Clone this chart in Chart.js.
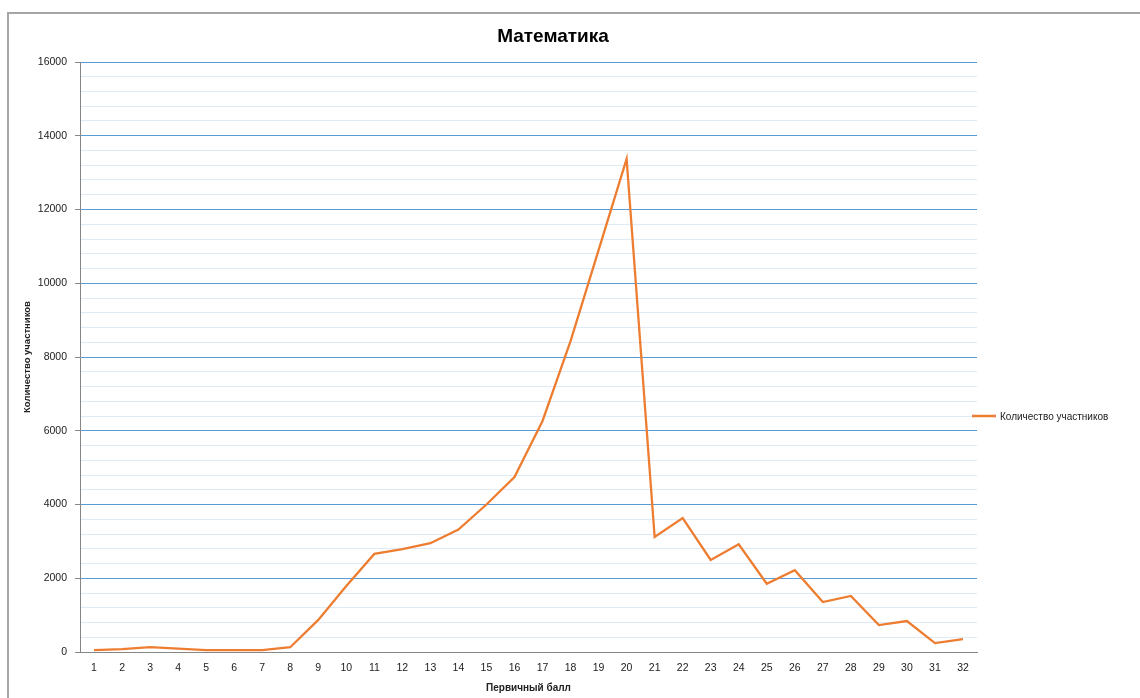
<!DOCTYPE html>
<html>
<head>
<meta charset="utf-8">
<script src="https://cdn.jsdelivr.net/npm/chart.js@4.4.1/dist/chart.umd.min.js"></script>
<style>
  body { margin: 0; background: #fff; }
  #frame { position: absolute; left: 7px; top: 12px; width: 1140px; height: 700px;
           border-left: 2px solid #a6a6a6; border-top: 2px solid #a6a6a6; }
  #wrap { position: absolute; left: 0; top: 0; width: 1140px; height: 698px; }
</style>
</head>
<body>
<div id="frame"></div>
<div id="wrap"><canvas id="chart"></canvas></div>
<script>
const chartTitle = 'Математика';
const seriesName = 'Количество участников';
const xTitle = 'Первичный балл';
const scores = [1, 2, 3, 4, 5, 6, 7, 8, 9, 10, 11, 12, 13, 14, 15, 16,
  17, 18, 19, 20, 21, 22, 23, 24, 25, 26, 27, 28, 29, 30, 31, 32];
const participants = [50, 80, 130, 90, 50, 50, 50, 130, 870, 1790, 2660, 2790, 2950, 3320, 4000, 4745,
  6265, 8430, 10900, 13370, 3120, 3630, 2495, 2920, 1850, 2220, 1355, 1520, 730, 840, 240, 350];

const FONT = "'Liberation Sans', Arial, sans-serif";
const orange = '#ed7d31';

// title + legend drawn by hand so they can sit where Excel put them
const decorations = {
  id: 'decorations',
  afterDraw(chart) {
    const ctx = chart.ctx;
    ctx.save();
    ctx.fillStyle = '#000';
    ctx.textBaseline = 'middle';
    ctx.textAlign = 'center';
    ctx.font = 'bold 19px ' + FONT;
    ctx.fillText(chartTitle, 553, 37);

    const ds = chart.data.datasets[0];
    const lx = chart.chartArea.right - 5;
    ctx.strokeStyle = ds.borderColor;
    ctx.lineWidth = 2.5;
    ctx.beginPath();
    ctx.moveTo(lx, 416);
    ctx.lineTo(lx + 24, 416);
    ctx.stroke();
    ctx.textAlign = 'left';
    ctx.font = '10px ' + FONT;
    ctx.fillStyle = '#222';
    ctx.fillText(ds.label, lx + 28, 417);
    ctx.restore();
  }
};

new Chart(document.getElementById('chart'), {
  type: 'line',
  data: {
    labels: scores,
    datasets: [{
      label: seriesName,
      data: participants,
      borderColor: orange,
      borderWidth: 2.3,
      pointRadius: 0,
      tension: 0,
      fill: false
    }]
  },
  options: {
    responsive: true,
    maintainAspectRatio: false,
    animation: false,
    layout: { padding: { left: 20, right: 163, top: 62, bottom: 4 } },
    plugins: {
      legend: { display: false },
      title: { display: false },
      tooltip: { enabled: false }
    },
    scales: {
      x: {
        offset: true,
        grid: { display: false, drawTicks: false },
        border: { display: true, color: '#868686', width: 1 },
        ticks: { color: '#222', font: { family: FONT, size: 10.5 }, padding: 10, autoSkip: false, maxRotation: 0 },
        title: { display: true, text: xTitle, color: '#222', font: { family: FONT, size: 10, weight: 'bold' }, padding: 0 },
        afterFit(scale) { scale.height = 42; }
      },
      y: {
        min: 0,
        max: 16000,
        ticks: {
          stepSize: 400,
          autoSkip: false,
          color: '#222',
          font: { family: FONT, size: 10.5 },
          padding: 8,
          callback: v => v % 2000 === 0 ? v : ''
        },
        grid: {
          color: c => c.tick && c.tick.value % 2000 === 0 ? '#5b9bd5' : '#dfeaf6',
          lineWidth: 1,
          tickLength: 5,
          tickColor: c => c.tick && c.tick.value % 2000 === 0 ? '#868686' : 'rgba(0,0,0,0)'
        },
        border: { display: true, color: '#868686', width: 1 },
        title: { display: true, text: seriesName, color: '#222', font: { family: FONT, size: 9.5, weight: 'bold' }, padding: { top: 2, bottom: 0 } },
        afterFit(scale) { scale.width = 60; }
      }
    }
  },
  plugins: [decorations]
});
</script>
</body>
</html>
